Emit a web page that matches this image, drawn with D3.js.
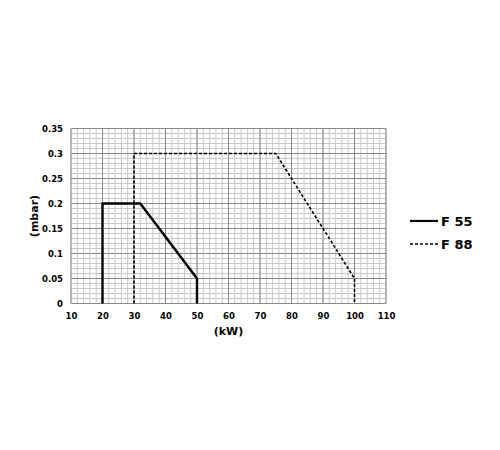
<!DOCTYPE html>
<html><head><meta charset="utf-8">
<script src="https://cdn.jsdelivr.net/npm/d3@7"></script>
<style>body{margin:0;background:#fff}</style>
</head><body>
<svg id="c" width="500" height="450"></svg>
<script>
const seriesNames = ["F 55", "F 88"];
const f55 = [[20,0],[20,0.2],[32,0.2],[50,0.05],[50,0]];
const f88 = [[30,0],[30,0.3],[75,0.3],[100,0.05],[100,0]];
const xTicks = [10,20,30,40,50,60,70,80,90,100,110];
const yTicks = [0,0.05,0.1,0.15,0.2,0.25,0.3,0.35];
const xLabel = "(kW)", yLabel = "(mbar)";

const svg = d3.select("#c");
const font = "Verdana, 'DejaVu Sans', sans-serif";
const L = 71, R = 386, T = 128.5, B = 303.5;
const x = d3.scaleLinear().domain([10,110]).range([L,R]);
const y = d3.scaleLinear().domain([0,0.35]).range([B,T]);

const g = svg.append("g");
// minor grid
const xMinor = d3.range(10,110.001,2);
const yMinor = d3.range(0,0.3501,0.01);
g.selectAll(".vx").data(xMinor).enter().append("line")
  .attr("x1",d=>x(d)).attr("x2",d=>x(d)).attr("y1",T).attr("y2",B)
  .attr("stroke","#c8c8c8").attr("stroke-width",1);
g.selectAll(".hy").data(yMinor).enter().append("line")
  .attr("x1",L).attr("x2",R).attr("y1",d=>y(d)).attr("y2",d=>y(d))
  .attr("stroke","#c8c8c8").attr("stroke-width",1);
// major grid
g.selectAll(".mx").data(xTicks).enter().append("line")
  .attr("x1",d=>x(d)).attr("x2",d=>x(d)).attr("y1",T).attr("y2",B)
  .attr("stroke","#8a8a8a").attr("stroke-width",1);
g.selectAll(".my").data(yTicks).enter().append("line")
  .attr("x1",L).attr("x2",R).attr("y1",d=>y(d)).attr("y2",d=>y(d))
  .attr("stroke","#8a8a8a").attr("stroke-width",1);

// axes
const xa = svg.append("g").attr("transform",`translate(0,${B})`)
  .call(d3.axisBottom(x).tickValues(xTicks).tickSize(0).tickPadding(9).tickFormat(d3.format("d")));
const ya = svg.append("g").attr("transform",`translate(${L},0)`)
  .call(d3.axisLeft(y).tickValues(yTicks).tickSize(0).tickPadding(8).tickFormat(d=>String(+d.toFixed(2))));
[xa,ya].forEach(a=>{a.select(".domain").remove();
  a.selectAll("text").attr("font-family",font).attr("font-weight","bold").attr("font-size",8.5).attr("fill","#000");});

// lines
const line = d3.line().x(d=>x(d[0])).y(d=>y(d[1]));
svg.append("path").attr("d",line(f88)).attr("fill","none").attr("stroke","#000")
  .attr("stroke-width",1.6).attr("stroke-dasharray","3,2");
svg.append("path").attr("d",line(f55)).attr("fill","none").attr("stroke","#000")
  .attr("stroke-width",2.4);

// axis labels
svg.append("text").attr("x",(L+R)/2).attr("y",335).attr("text-anchor","middle")
  .attr("font-family",font).attr("font-weight","bold").attr("font-size",11).text(xLabel);
svg.append("text").attr("transform",`translate(38,${(T+B)/2}) rotate(-90)`).attr("text-anchor","middle")
  .attr("font-family",font).attr("font-weight","bold").attr("font-size",11).text(yLabel);

// legend
const leg = svg.append("g");
seriesNames.forEach((n,i)=>{
  const yy = 221 + i*23;
  leg.append("line").attr("x1",410).attr("x2",438).attr("y1",yy).attr("y2",yy)
    .attr("stroke","#000").attr("stroke-width",i===0?2.2:1.6)
    .attr("stroke-dasharray",i===0?null:"3,2");
  leg.append("text").attr("x",441).attr("y",yy+5).attr("font-family",font)
    .attr("font-weight","bold").attr("font-size",13).text(n);
});
</script>
</body></html>
